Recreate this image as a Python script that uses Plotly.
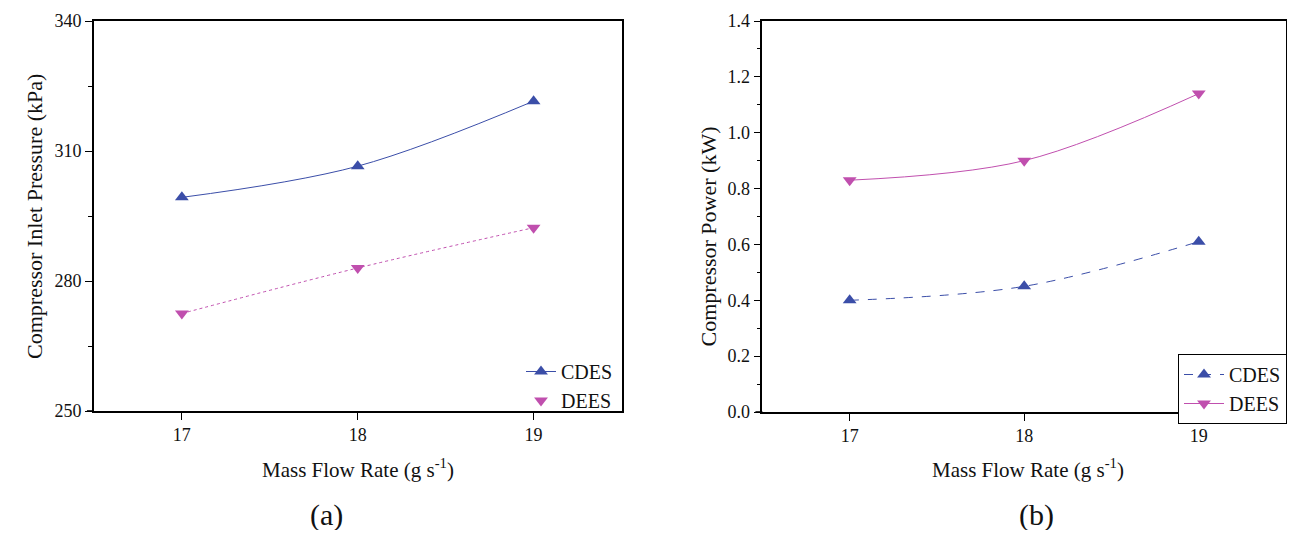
import plotly.graph_objects as go

# ---- data ----
flow_rate = [17, 18, 19]
pressure_cdes = [299.3, 306.5, 321.5]
pressure_dees = [272.5, 283.0, 292.3]
power_cdes = [0.40, 0.45, 0.61]
power_dees = [0.83, 0.90, 1.14]

BLUE = "#3b4ea8"
MAGENTA = "#c04fae"
FONT = "Liberation Serif"

# page body has an 8px default margin; size the figure so the page fits the window
OFF = 8
W, H = 1295 - 2 * OFF, 538 - 2 * OFF


def px_x(p):
    return (p - OFF) / W


def px_y(p):
    return 1 - (p - OFF) / H


fig = go.Figure()

# ---- panel (a) ----
fig.add_trace(go.Scatter(x=flow_rate, y=pressure_cdes, mode="lines+markers", name="CDES",
                         line=dict(color=BLUE, width=1, shape="spline"),
                         marker=dict(symbol="triangle-up", size=12, color=BLUE),
                         xaxis="x", yaxis="y", legend="legend"))
fig.add_trace(go.Scatter(x=flow_rate, y=pressure_dees, mode="lines", name="DEES",
                         line=dict(color=MAGENTA, width=1, shape="spline", dash="dot"),
                         showlegend=False, xaxis="x", yaxis="y"))
fig.add_trace(go.Scatter(x=flow_rate, y=pressure_dees, mode="markers", name="DEES",
                         marker=dict(symbol="triangle-down", size=12, color=MAGENTA),
                         xaxis="x", yaxis="y", legend="legend"))

# ---- panel (b) ----
fig.add_trace(go.Scatter(x=flow_rate, y=power_cdes, mode="lines+markers", name="CDES",
                         line=dict(color=BLUE, width=1, shape="spline", dash="dash"),
                         marker=dict(symbol="triangle-up", size=12, color=BLUE),
                         xaxis="x2", yaxis="y2", legend="legend2"))
fig.add_trace(go.Scatter(x=flow_rate, y=power_dees, mode="lines+markers", name="DEES",
                         line=dict(color=MAGENTA, width=1, shape="spline"),
                         marker=dict(symbol="triangle-down", size=12, color=MAGENTA),
                         xaxis="x2", yaxis="y2", legend="legend2"))

axis_common = dict(showgrid=False, zeroline=False, showline=True, linecolor="black",
                   linewidth=1.6, mirror=True, ticks="outside", ticklen=7, tickwidth=1.3,
                   tickcolor="black", automargin=False,
                   tickfont=dict(family=FONT, size=18, color="#111"))

ann_font = dict(family=FONT, size=21, color="#111")

# short extension of the bottom axis line to the left of each y axis (Origin style)
axis_ext = [
    dict(type="line", xref="paper", yref="paper", x0=px_x(87), x1=px_x(94),
         y0=px_y(411), y1=px_y(411), line=dict(color="black", width=1.6)),
    dict(type="line", xref="paper", yref="paper", x0=px_x(756), x1=px_x(763),
         y0=px_y(412), y1=px_y(412), line=dict(color="black", width=1.6)),
]

fig.update_layout(
    template="none",
    width=W, height=H,
    margin=dict(l=0, r=0, t=0, b=0, pad=0),
    paper_bgcolor="white", plot_bgcolor="white",
    font=dict(family=FONT, color="#111"),
    shapes=axis_ext,
    xaxis=dict(domain=[px_x(94), px_x(622)], range=[16.5, 19.5], tickvals=flow_rate,
               anchor="y", **axis_common),
    yaxis=dict(domain=[px_y(411), px_y(21)], range=[250, 340], tickvals=[250, 280, 310, 340],
               minor=dict(tickvals=[265, 295, 325], ticks="outside", ticklen=4, tickcolor="black"),
               anchor="x", **axis_common),
    xaxis2=dict(domain=[px_x(763), px_x(1287)], range=[16.5, 19.5], tickvals=flow_rate,
                anchor="y2", **axis_common),
    yaxis2=dict(domain=[px_y(412), px_y(21)], range=[0, 1.4], dtick=0.2, tickformat=".1f",
                minor=dict(dtick=0.1, ticks="outside", ticklen=4, tickcolor="black"),
                anchor="x2", **axis_common),
    legend=dict(x=px_x(618), y=px_y(352), xanchor="right", yanchor="top",
                bgcolor="rgba(0,0,0,0)", borderwidth=0,
                font=dict(family=FONT, size=20, color="#111"), tracegroupgap=0),
    legend2=dict(x=px_x(1288), y=px_y(354), xanchor="right", yanchor="top",
                 bgcolor="white", bordercolor="black", borderwidth=1, itemwidth=40,
                 font=dict(family=FONT, size=20, color="#111"), tracegroupgap=0),
    annotations=[
        dict(text="Mass Flow Rate (g s<sup>-1</sup>)", x=px_x(358), y=px_y(468), xref="paper", yref="paper",
             xanchor="center", yanchor="middle", showarrow=False, font=ann_font),
        dict(text="Mass Flow Rate (g s<sup>-1</sup>)", x=px_x(1029), y=px_y(468), xref="paper", yref="paper",
             xanchor="center", yanchor="middle", showarrow=False, font=ann_font),
        dict(text="Compressor Inlet Pressure (kPa)", x=px_x(34), y=px_y(216), xref="paper", yref="paper",
             xanchor="center", yanchor="middle", showarrow=False, textangle=-90,
             font=dict(family=FONT, size=22, color="#111")),
        dict(text="Compressor Power (kW)", x=px_x(709), y=px_y(236), xref="paper", yref="paper",
             xanchor="center", yanchor="middle", showarrow=False, textangle=-90,
             font=dict(family=FONT, size=22, color="#111")),
        dict(text="(a)", x=px_x(327), y=px_y(515), xref="paper", yref="paper",
             xanchor="center", yanchor="middle", showarrow=False,
             font=dict(family=FONT, size=30, color="#111")),
        dict(text="(b)", x=px_x(1037), y=px_y(515), xref="paper", yref="paper",
             xanchor="center", yanchor="middle", showarrow=False,
             font=dict(family=FONT, size=30, color="#111")),
    ],
)

fig.write_html("out.html")
